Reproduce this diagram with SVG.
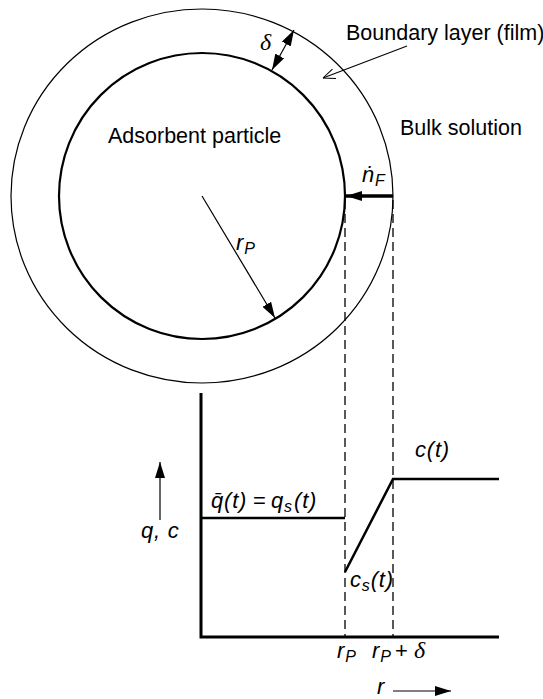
<svg xmlns="http://www.w3.org/2000/svg" width="543" height="699" viewBox="0 0 543 699">
<style>
.t{font-family:"Liberation Sans",Arial,sans-serif;font-size:21.5px;fill:#000}
.m{font-family:"Liberation Sans",Arial,sans-serif;font-size:22px;font-style:italic;fill:#000;letter-spacing:0.8px}
.u{font-style:normal}
.s{font-size:16px}
.d{font-family:"Liberation Serif","Times New Roman",serif;font-style:italic;font-size:24px;fill:#000}
.thin{fill:none;stroke:#000;stroke-width:1.2}
.dash{fill:none;stroke:#000;stroke-width:1.3;stroke-dasharray:9 5}
.thick{fill:none;stroke:#000;stroke-width:3}
.lvl{fill:none;stroke:#000;stroke-width:2.5}
</style>
<defs>
<marker id="ah" viewBox="0 0 16 10" refX="16" refY="5" markerWidth="16" markerHeight="10" markerUnits="userSpaceOnUse" orient="auto-start-reverse">
<path d="M0,0 L16,5 L0,10 Z" fill="#000"/>
</marker>
<marker id="open" viewBox="0 0 12 10" refX="12" refY="5" markerWidth="12" markerHeight="10" markerUnits="userSpaceOnUse" orient="auto">
<path d="M0,0 L12,5 L0,10" fill="none" stroke="#000" stroke-width="1"/>
</marker>
</defs>
<g id="film">
<ellipse cx="202" cy="196" rx="191" ry="187" fill="none" stroke="#000" stroke-width="1.2"/>
</g>
<g id="particle">
<ellipse cx="202" cy="196" rx="143" ry="143" fill="none" stroke="#000" stroke-width="2.2"/>
<text class="t" x="108" y="143">Adsorbent particle</text>
</g>
<g id="labels">
<text class="t" x="346" y="40" font-size="22">Boundary layer (film)</text>
<text class="t" x="400" y="135">Bulk solution</text>
<text class="d" x="260" y="50">δ</text>
<text class="m" x="362" y="182">ṅ<tspan class="s" dy="4">F</tspan></text>
<text class="m" x="236" y="250">r<tspan class="s" dy="4">P</tspan></text>
<text class="m" x="211" y="508">q̄(t)<tspan class="u" x="253">=</tspan><tspan x="271">q</tspan><tspan class="s" dy="4">s</tspan><tspan dy="-4" x="294">(t)</tspan></text>
<text class="m" x="415" y="457">c(t)</text>
<text class="m" x="350" y="587">c<tspan class="s" dy="4">s</tspan><tspan dy="-4">(t)</tspan></text>
<text class="m" x="141" y="538">q, c</text>
<text class="m" x="337" y="658">r<tspan class="s" dy="4">P</tspan></text>
<text class="m" x="372" y="658">r<tspan class="s" dy="4">P</tspan><tspan class="u" dy="-4" x="395">+</tspan><tspan class="d" x="414">δ</tspan></text>
<text class="m" x="377" y="694">r</text>
</g>
<g id="connectors">
<line class="thin" x1="272" y1="70" x2="294" y2="30" marker-start="url(#ah)" marker-end="url(#ah)"/>
<line class="thin" x1="407" y1="46" x2="323" y2="78" stroke-width="1" marker-end="url(#open)"/>
<line class="thin" x1="202" y1="196" x2="275" y2="318" marker-end="url(#ah)"/>
<line x1="393" y1="196" x2="346" y2="196" stroke="#000" stroke-width="3.3" marker-end="url(#ah)"/>
<line class="dash" x1="345" y1="200" x2="345" y2="637"/>
<line class="dash" x1="393" y1="200" x2="393" y2="637"/>
<line class="thin" x1="160" y1="520" x2="160" y2="462" marker-end="url(#ah)"/>
<line class="thin" x1="393" y1="691" x2="451" y2="691" marker-end="url(#ah)"/>
</g>
<g id="plot">
<polyline class="thick" points="201,393 201,637 499,637"/>
<line class="lvl" x1="201" y1="518" x2="345" y2="518"/>
<polyline class="lvl" points="345,572 393,479 499,479"/>
</g>
</svg>
